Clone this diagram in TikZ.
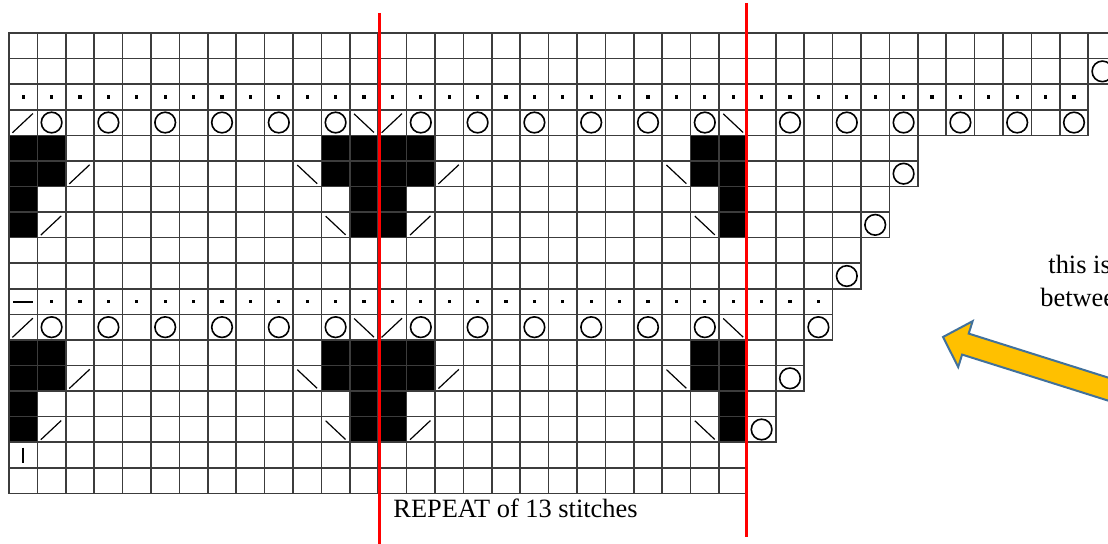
\documentclass[tikz,border=0pt]{standalone}
\usepackage{fontspec}
\setmainfont{Liberation Serif}
\definecolor{gridink}{RGB}{60,60,60}
\definecolor{repeatred}{RGB}{255,0,0}
\definecolor{arrowfill}{RGB}{255,192,0}
\definecolor{arrowedge}{RGB}{65,113,156}
\tikzset{
  cell/.style={draw=gridink, line width=0.8pt},
  nostitch/.style={fill=black},
  yoline/.style={draw=black, line width=0.8pt},
  decline/.style={draw=black, line width=0.6pt},
  markline/.style={draw=black, line width=1pt},
  repeatline/.style={draw=repeatred, line width=1.5pt},
  lbl/.style={font=\fontsize{13.2}{16}\selectfont, inner sep=0pt},
  pointer/.style={fill=arrowfill, draw=arrowedge, line width=1pt, line join=miter},
}
% chart symbols: #1 = column, #2 = row (0 = top row)
\newcommand\kyo[2]{\draw[yoline] (#1+.5,#2+.5) circle[radius=5.15pt];}
\newcommand\ktog[2]{\draw[decline] (#1+.12,#2+.9) -- (#1+.84,#2+.15);}
\newcommand\kssk[2]{\draw[decline] (#1+.15,#2+.16) -- (#1+.85,#2+.89);}
\newcommand\kpurl[2]{\fill (#1+.5,#2+.5) +(-.8pt,-.8pt) rectangle +(.8pt,.8pt);}
\newcommand\kblack[2]{\fill[nostitch] (#1,#2) rectangle +(1,1);}

\begin{document}
\begin{tikzpicture}[x=0.5pt, y=-0.5pt]
  \useasboundingbox (0,0) rectangle (1108,544);
  \clip (0,0) rectangle (1108,544);
  % the chart, one unit per stitch
  \begin{scope}[shift={(9,33)}, x=14.2pt, y=-12.79pt]
    \foreach \b in {4,12} {
      \foreach \c in {0,1,11,12,13,14,24,25} {\kblack{\c}{\b} \kblack{\c}{\b+1}}
      \foreach \c in {0,12,13,25} {\kblack{\c}{\b+2} \kblack{\c}{\b+3}}
    }
    \foreach \r/\n in {0/40,1/40,2/38,3/38,4/32,5/32,6/31,7/31,8/30,9/30,10/29,11/29,12/28,13/28,14/27,15/27,16/26,17/26} {
      \foreach \c in {1,...,\n} {\draw[cell] (\c-1,\r) rectangle +(1,1);}
    }
    % lace rows
    \foreach \r in {3,11} {
      \ktog{0}{\r} \ktog{13}{\r} \kssk{12}{\r} \kssk{25}{\r}
      \foreach \c in {1,3,...,11} {\kyo{\c}{\r}}
      \foreach \c in {14,16,...,24} {\kyo{\c}{\r}}
    }
    \foreach \c in {27,29,...,37} {\kyo{\c}{3}}
    \foreach \c/\r in {38/1,31/5,30/7,29/9,28/11,27/13,26/15} {\kyo{\c}{\r}}
    % decreases beside the black blocks
    \foreach \b in {4,12} {
      \ktog{2}{\b+1} \ktog{15}{\b+1} \kssk{10}{\b+1} \kssk{23}{\b+1}
      \ktog{1}{\b+3} \ktog{14}{\b+3} \kssk{11}{\b+3} \kssk{24}{\b+3}
    }
    % purl rows
    \foreach \c in {0,...,37} {\kpurl{\c}{2}}
    \foreach \c in {1,...,28} {\kpurl{\c}{10}}
    \draw[markline] (0.15,10.53) -- (0.84,10.53);
    \draw[markline] (0.48,16.21) -- (0.48,16.82);
  \end{scope}
  % repeat markers
  \draw[repeatline] (379,13) -- (379,544);
  \draw[repeatline] (746,3) -- (746,537);
  \node[lbl, anchor=base west] (repeatlbl) at (393,518) {REPEAT of 13 stitches};
  % note and its arrow, running off the right edge
  \node[lbl, anchor=base west] (note1) at (1048,274) {this is};
  \node[lbl, anchor=base west] (note2) at (1040,307) {betwee};
  \draw[pointer] (943,337) -- (972.6,321.2) -- (968.7,333.6) -- (1184.8,401.8)
    -- (1178.2,422.7) -- (962.1,354.6) -- (958.2,367.0) -- cycle;
\end{tikzpicture}
\end{document}
